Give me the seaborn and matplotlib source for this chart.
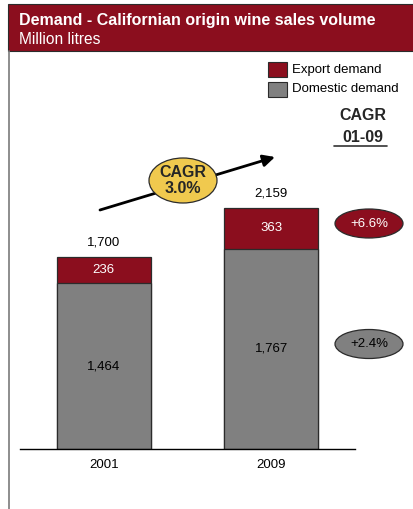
import matplotlib
matplotlib.use("Agg")
import matplotlib.pyplot as plt
from matplotlib.patches import Rectangle, Ellipse, FancyArrowPatch
import seaborn as sns
import pandas as pd

# Sales volume (million litres)
years = ["2001", "2009"]
domestic = [1464, 1767]
export = [236, 363]
totals = [1700, 2159]
cagr_total = "CAGR\n3.0%"
cagr_export = "+6.6%"
cagr_domestic = "+2.4%"

RED = "#8B0E1E"
GREY = "#808080"
EDGE = "#2b2b2b"

sns.set_theme(style="white")
plt.rcParams["font.family"] = ["Liberation Sans", "DejaVu Sans"]

W, H = 413, 509
fig = plt.figure(figsize=(W / 100, H / 100), dpi=100)


def fx(x):
    return x / W


def fy(y):
    return 1 - y / H


# Plot area: baseline at y=449px, 0.1132 px per million litres
ax = fig.add_axes([fx(20), fy(449), fx(355) - fx(20), fy(60) - fy(449)])
ax.patch.set_alpha(0)

df = pd.DataFrame({"year": years, "domestic": domestic,
                   "export": export, "total": totals})
df["stack"] = df["domestic"] + df["export"]

sns.barplot(data=df, x="year", y="stack", color=RED, width=0.56,
            edgecolor=EDGE, linewidth=0.9, saturation=1, ax=ax)
sns.barplot(data=df, x="year", y="domestic", color=GREY, width=0.56,
            edgecolor=EDGE, linewidth=0.9, saturation=1, ax=ax)

ax.set_xlim(-0.5, 1.5)
ax.set_ylim(0, 389 / 0.1132)
ax.set_xlabel("")
ax.set_ylabel("")
ax.set_yticks([])
for s in ["top", "right", "left"]:
    ax.spines[s].set_visible(False)
ax.spines["bottom"].set_color("black")
ax.spines["bottom"].set_linewidth(1.0)
ax.tick_params(axis="x", length=0, pad=7.5, labelsize=9.5, labelcolor="black")

for i, row in df.iterrows():
    ax.annotate(f"{row['total']:,}", (i, row["stack"]), xytext=(0, 10),
                textcoords="offset points", ha="center", va="center",
                fontsize=9.5, color="black")
    ax.text(i, row["domestic"] + row["export"] / 2, f"{row['export']:,}",
            ha="center", va="center", fontsize=9.5, color="white")
    ax.text(i, row["domestic"] / 2, f"{row['domestic']:,}",
            ha="center", va="center", fontsize=9.5, color="black")

# Header band
fig.patches.append(Rectangle((fx(8), fy(51)), 1 - fx(8) + 0.01, fy(4) - fy(51),
                             transform=fig.transFigure, facecolor=RED,
                             edgecolor=EDGE, linewidth=0.8, zorder=1))
fig.text(fx(19), fy(21), "Demand - Californian origin wine sales volume",
         color="white", fontsize=11.5, fontweight="bold", va="center", ha="left")
fig.text(fx(19), fy(39.5), "Million litres", color="white", fontsize=11.2,
         va="center", ha="left")

# Frame line on the left
fig.add_artist(plt.Line2D([fx(8.5), fx(8.5)], [fy(51), 0], transform=fig.transFigure,
                          color="#7a7a7a", linewidth=1.2))

# Legend
for (y0, col, lab) in [(62, RED, "Export demand"), (82, GREY, "Domestic demand")]:
    fig.patches.append(Rectangle((fx(268), fy(y0 + 15)), fx(287) - fx(268), fy(y0) - fy(y0 + 15),
                                 transform=fig.transFigure, facecolor=col,
                                 edgecolor=EDGE, linewidth=0.8))
    fig.text(fx(292), fy(y0 + 7.5), lab, fontsize=9.5, va="center", ha="left", color="black")

# CAGR column heading
fig.text(fx(363), fy(116), "CAGR", fontsize=11.5, fontweight="bold", ha="center", va="center")
fig.text(fx(363), fy(137), "01-09", fontsize=11.5, fontweight="bold", ha="center", va="center")
fig.add_artist(plt.Line2D([fx(334), fx(387)], [fy(145.5), fy(145.5)],
                          transform=fig.transFigure, color="#333333", linewidth=1.2))

# Overall growth arrow with CAGR bubble
fig.add_artist(FancyArrowPatch(
    (fx(100), fy(210)), (fx(275), fy(157)), transform=fig.transFigure,
    arrowstyle="-|>,head_length=0.5,head_width=0.25", mutation_scale=14,
    shrinkA=0, shrinkB=0, color="black", linewidth=2.0, zorder=3))
fig.patches.append(Ellipse((fx(183), fy(180.5)), fx(68), 45 / H, transform=fig.transFigure,
                           facecolor="#F0C94E", edgecolor=EDGE, linewidth=0.9, zorder=4))
fig.text(fx(183), fy(180.5), cagr_total, fontsize=11.5, fontweight="bold", ha="center",
         va="center", linespacing=1.12, zorder=5)

# Segment growth bubbles
for (yc, col, tcol, lab) in [(223.5, RED, "white", cagr_export),
                             (344, GREY, "black", cagr_domestic)]:
    fig.patches.append(Ellipse((fx(369), fy(yc)), fx(68), 29 / H, transform=fig.transFigure,
                               facecolor=col, edgecolor=EDGE, linewidth=0.9))
    fig.text(fx(369), fy(yc), lab, fontsize=9.5, ha="center", va="center", color=tcol)

fig.savefig("out.png", dpi=100)
